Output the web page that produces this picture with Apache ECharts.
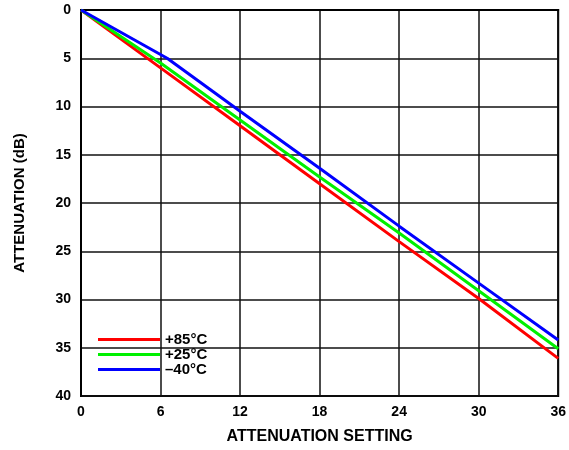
<!DOCTYPE html>
<html>
<head>
<meta charset="utf-8">
<script src="https://cdn.jsdelivr.net/npm/echarts@6/dist/echarts.min.js"></script>
<style>html,body{margin:0;padding:0;background:#fff}#c{width:569px;height:450px}</style>
</head>
<body>
<div id="c"></div>
<script>
const seriesNames = ['+85°C', '+25°C', '\u201340°C'];
const colors = ['#ff0000', '#00f000', '#0000ff'];
const settings85 = [0, 6, 12, 18, 24, 30, 36];
const atten85 = [0, 6.0, 12.0, 18.0, 24.0, 29.9, 36.1];
const settings25 = [0, 6, 12, 18, 24, 30, 36];
const atten25 = [0, 5.5, 11.4, 17.3, 23.1, 29.1, 35.1];
const settingsM40 = [0, 6.5, 12, 18, 24, 30, 36];
const attenM40 = [0, 5.0, 10.5, 16.4, 22.4, 28.3, 34.2];
const xTicks = [0, 6, 12, 18, 24, 30, 36];
const yTicks = [0, 5, 10, 15, 20, 25, 30, 35, 40];

const zip = (xs, ys) => xs.map((x, i) => [x, ys[i]]);
const font = {fontFamily: 'Liberation Sans, Arial, sans-serif', fontWeight: 'bold', fontSize: 14, color: '#000'};
const nameFont = Object.assign({}, font, {fontSize: 16});
const chart = echarts.init(document.getElementById('c'), null, {renderer: 'canvas'});
const mk = (name, data, color) => ({
  name, type: 'line', data, symbol: 'none', smooth: false,
  lineStyle: {color, width: 3}, itemStyle: {color}, animation: false
});
chart.setOption({
  animation: false,
  grid: {left: 81, right: 8, top: 10, bottom: 53, show: true, borderColor: '#000', borderWidth: 2, backgroundColor: 'transparent'},
  legend: {
    orient: 'vertical', left: 98, top: 332, itemWidth: 62, itemHeight: 3, itemGap: 0, padding: 0,
    icon: 'rect', data: seriesNames, textStyle: Object.assign({}, font, {fontSize: 15, padding: [0, 0, 0, 0]}),
    inactiveColor: '#000'
  },
  xAxis: {
    type: 'value', min: xTicks[0], max: xTicks[xTicks.length - 1], interval: 6,
    name: 'ATTENUATION SETTING', nameLocation: 'middle', nameGap: 33,
    nameTextStyle: nameFont,
    axisLine: {show: true, lineStyle: {color: '#000', width: 2}},
    axisTick: {show: false},
    axisLabel: Object.assign({}, font, {margin: 9}),
    splitLine: {show: true, lineStyle: {color: '#111', width: 1.5}}
  },
  yAxis: {
    type: 'value', inverse: true, min: yTicks[0], max: yTicks[yTicks.length - 1], interval: 5,
    name: 'ATTENUATION (dB)', nameLocation: 'middle', nameGap: 54,
    nameTextStyle: Object.assign({}, nameFont, {fontSize: 15}),
    axisLine: {show: true, lineStyle: {color: '#000', width: 2}},
    axisTick: {show: false},
    axisLabel: Object.assign({}, font, {margin: 10}),
    splitLine: {show: true, lineStyle: {color: '#111', width: 1.5}}
  },
  series: [
    mk(seriesNames[0], zip(settings85, atten85), colors[0]),
    mk(seriesNames[1], zip(settings25, atten25), colors[1]),
    mk(seriesNames[2], zip(settingsM40, attenM40), colors[2])
  ]
});
</script>
</body>
</html>
